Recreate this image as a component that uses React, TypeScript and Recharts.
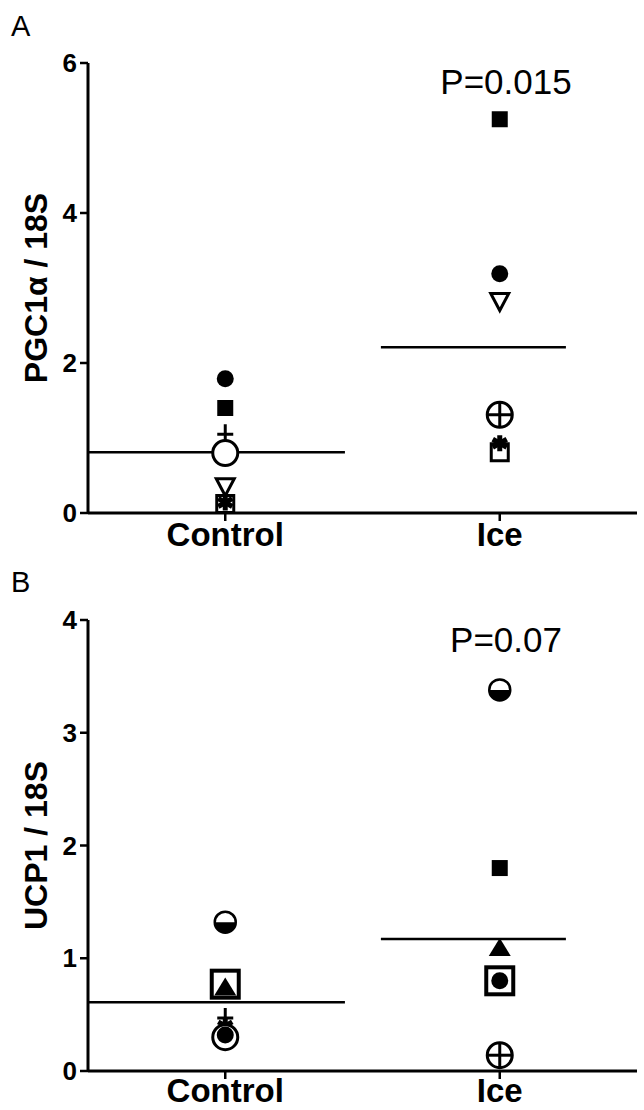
import React from 'react';
import { ScatterChart, Scatter, XAxis, YAxis, ReferenceLine } from 'recharts';

const categories = ['Control', 'Ice'];

// Panel A: PGC1α / 18S
const pgcTicks = [0, 2, 4, 6];
const pgcControlValues = [1.79, 1.40, 1.05, 0.80, 0.35, 0.12, 0.14];
const pgcControlMarkers = ['circle', 'square', 'plus', 'openCircle', 'openTriDown', 'openSquare', 'asterisk'];
const pgcIceValues = [5.25, 3.19, 2.82, 1.31, 1.31, 0.81, 0.93];
const pgcIceMarkers = ['square', 'circle', 'openTriDown', 'openCircle', 'plusWide', 'openSquare', 'asterisk'];
const pgcMeans = [0.81, 2.21];
const pgcPValue = 'P=0.015';

// Panel B: UCP1 / 18S
const ucpTicks = [0, 1, 2, 3, 4];
const ucpControlValues = [1.32, 0.77, 0.75, 0.47, 0.40, 0.30, 0.32];
const ucpControlMarkers = ['halfCircle', 'bigOpenSquare', 'triangle', 'plus', 'asterisk', 'openCircle', 'circle'];
const ucpIceValues = [3.38, 1.80, 1.10, 0.80, 0.80, 0.14, 0.14];
const ucpIceMarkers = ['halfCircle', 'square', 'triangle', 'bigOpenSquare', 'circle', 'openCircle', 'plusWide'];
const ucpMeans = [0.61, 1.17];
const ucpPValue = 'P=0.07';

const FONT = '"Liberation Sans", Arial, Helvetica, sans-serif';
const MEAN_LEFT = [0.5, 1.567];
const MEAN_RIGHT = [1.436, 2.241];

function renderMarker(kind: string, cx: number, cy: number) {
  const k = 'black';
  switch (kind) {
    case 'circle':
      return <circle cx={cx} cy={cy} r={8.5} fill={k} />;
    case 'square':
      return <rect x={cx - 8} y={cy - 8} width={16} height={16} fill={k} />;
    case 'plus':
      return (
        <g stroke={k} strokeWidth={3}>
          <line x1={cx} y1={cy - 10} x2={cx} y2={cy + 10} />
          <line x1={cx - 8} y1={cy} x2={cx + 8} y2={cy} />
        </g>
      );
    case 'plusWide':
      return (
        <g stroke={k} strokeWidth={3}>
          <line x1={cx} y1={cy - 13} x2={cx} y2={cy + 13} />
          <line x1={cx - 13} y1={cy} x2={cx + 13} y2={cy} />
        </g>
      );
    case 'openCircle':
      return <circle cx={cx} cy={cy} r={12.5} fill="white" stroke={k} strokeWidth={3} />;
    case 'openTriDown':
      return (
        <polygon
          points={`${cx - 9},${cy - 8} ${cx + 9},${cy - 8} ${cx},${cy + 9}`}
          fill="white"
          stroke={k}
          strokeWidth={3}
          strokeLinejoin="miter"
        />
      );
    case 'openSquare':
      return <rect x={cx - 8.5} y={cy - 8.5} width={17} height={17} fill="white" stroke={k} strokeWidth={3} />;
    case 'bigOpenSquare':
      return <rect x={cx - 13.5} y={cy - 13.5} width={27} height={27} fill="white" stroke={k} strokeWidth={4} />;
    case 'asterisk':
      return (
        <g stroke={k} strokeWidth={5}>
          <line x1={cx} y1={cy - 8} x2={cx} y2={cy + 8} />
          <line x1={cx - 7} y1={cy - 4} x2={cx + 7} y2={cy + 4} />
          <line x1={cx - 7} y1={cy + 4} x2={cx + 7} y2={cy - 4} />
        </g>
      );
    case 'triangle':
      return <polygon points={`${cx - 11},${cy + 9} ${cx + 11},${cy + 9} ${cx},${cy - 9}`} fill={k} />;
    case 'halfCircle':
      return (
        <g>
          <circle cx={cx} cy={cy} r={10.5} fill="white" stroke={k} strokeWidth={2.5} />
          <path d={`M ${cx - 10.5} ${cy} A 10.5 10.5 0 0 0 ${cx + 10.5} ${cy} Z`} fill={k} />
        </g>
      );
    default:
      return <g />;
  }
}

function buildPoints(values: number[], markers: string[], catIndex: number) {
  return values.map((v, i) => ({ x: catIndex + 1, y: v, marker: markers[i] }));
}

const markerShape = (props: any) => renderMarker(props.payload.marker, props.cx, props.cy);

type PanelProps = {
  height: number;
  marginTop: number;
  xAxisHeight: number;
  tickMargin: number;
  ticks: number[];
  yMax: number;
  title: string;
  controlValues: number[];
  controlMarkers: string[];
  iceValues: number[];
  iceMarkers: string[];
  means: number[];
};

function Panel(p: PanelProps) {
  const control = buildPoints(p.controlValues, p.controlMarkers, 0);
  const ice = buildPoints(p.iceValues, p.iceMarkers, 1);
  return (
    <ScatterChart
      width={644}
      height={p.height}
      margin={{ top: p.marginTop, right: 7, bottom: 0, left: 0 }}
      style={{ overflow: 'visible' }}
    >
      <XAxis
        type="number"
        dataKey="x"
        domain={[0.5, 2.5]}
        ticks={[1, 2]}
        tickFormatter={(v: number) => categories[v - 1]}
        height={p.xAxisHeight}
        axisLine={{ stroke: 'black', strokeWidth: 3 }}
        tickLine={{ stroke: 'black', strokeWidth: 2.5 }}
        tickSize={8}
        tickMargin={p.tickMargin}
        tick={{ fill: 'black', fontSize: 33, fontWeight: 'bold', fontFamily: FONT }}
        allowDataOverflow
      />
      <YAxis
        type="number"
        dataKey="y"
        domain={[0, p.yMax]}
        ticks={p.ticks}
        width={88}
        axisLine={{ stroke: 'black', strokeWidth: 3 }}
        tickLine={{ stroke: 'black', strokeWidth: 2.5 }}
        tickSize={8}
        tickMargin={3}
        tick={{ fill: 'black', fontSize: 26, fontWeight: 'bold', fontFamily: FONT }}
        allowDataOverflow
        label={{
          content: (lp: any) => {
            const vb = lp.viewBox || {};
            const cy = (vb.y || 0) + (vb.height || 0) / 2;
            const cx = 36;
            return (
              <text
                x={cx}
                y={cy}
                transform={`rotate(-90, ${cx}, ${cy})`}
                textAnchor="middle"
                dominantBaseline="central"
                fontSize={32}
                fontWeight="bold"
                fontFamily={FONT}
                fill="black"
              >
                {p.title}
              </text>
            );
          },
        }}
      />
      {p.means.map((m, i) => (
        <ReferenceLine
          key={i}
          segment={[
            { x: MEAN_LEFT[i], y: m },
            { x: MEAN_RIGHT[i], y: m },
          ]}
          stroke="black"
          strokeWidth={2.5}
        />
      ))}
      <Scatter data={control} shape={markerShape} isAnimationActive={false} />
      <Scatter data={ice} shape={markerShape} isAnimationActive={false} />
    </ScatterChart>
  );
}

const textStyle: React.CSSProperties = {
  position: 'absolute',
  fontFamily: FONT,
  color: 'black',
  lineHeight: 1,
  whiteSpace: 'nowrap',
};

export default function App() {
  return (
    <div style={{ position: 'absolute', left: 0, top: 0, width: 644, height: 1110, background: 'white', overflow: 'hidden' }}>
      <div style={{ position: 'absolute', left: 0, top: 0 }}>
        <Panel
          height={560}
          marginTop={63}
          xAxisHeight={47}
          tickMargin={2}
          ticks={pgcTicks}
          yMax={6}
          title="PGC1α / 18S"
          controlValues={pgcControlValues}
          controlMarkers={pgcControlMarkers}
          iceValues={pgcIceValues}
          iceMarkers={pgcIceMarkers}
          means={pgcMeans}
        />
      </div>
      <div style={{ position: 'absolute', left: 0, top: 560 }}>
        <Panel
          height={550}
          marginTop={60}
          xAxisHeight={39}
          tickMargin={0}
          ticks={ucpTicks}
          yMax={4}
          title="UCP1 / 18S"
          controlValues={ucpControlValues}
          controlMarkers={ucpControlMarkers}
          iceValues={ucpIceValues}
          iceMarkers={ucpIceMarkers}
          means={ucpMeans}
        />
      </div>
      <div style={{ ...textStyle, left: 11, top: 12, fontSize: 29 }}>A</div>
      <div style={{ ...textStyle, left: 11, top: 568, fontSize: 29 }}>B</div>
      <div style={{ ...textStyle, left: 506, top: 64, fontSize: 35, transform: 'translateX(-50%)' }}>{pgcPValue}</div>
      <div style={{ ...textStyle, left: 506, top: 622, fontSize: 35, transform: 'translateX(-50%)' }}>{ucpPValue}</div>
    </div>
  );
}
